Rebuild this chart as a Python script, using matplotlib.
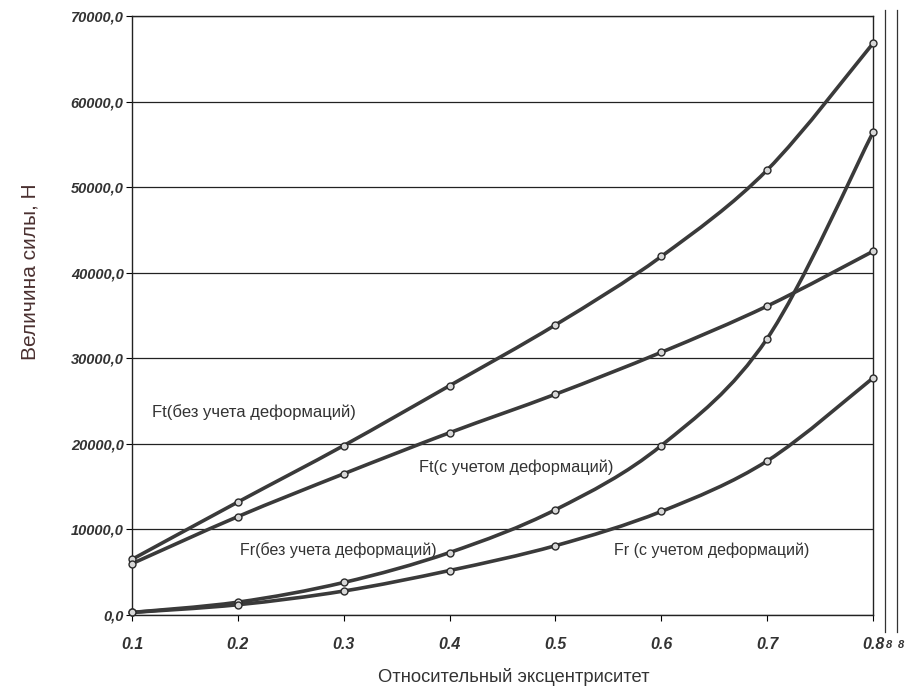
import matplotlib
matplotlib.use("Agg")
import matplotlib.pyplot as plt
from matplotlib.lines import Line2D
from matplotlib.path import Path
from matplotlib.patches import PathPatch

categories = ["0.1", "0.2", "0.3", "0.4", "0.5", "0.6", "0.7", "0.8"]
ft_no_def = [6500, 13200, 19800, 26800, 33900, 41900, 52000, 66800]
ft_def = [6000, 11500, 16500, 21300, 25800, 30700, 36100, 42500]
fr_no_def = [300, 1500, 3800, 7300, 12300, 19800, 32300, 56400]
fr_def = [300, 1200, 2800, 5200, 8100, 12100, 18000, 27700]
y_ticks = [0, 10000, 20000, 30000, 40000, 50000, 60000, 70000]
y_tick_labels = ["0,0", "10000,0", "20000,0", "30000,0", "40000,0", "50000,0", "60000,0", "70000,0"]
series_labels = ["Ft(без учета деформаций)", "Ft(с учетом деформаций)",
                 "Fr(без учета деформаций)", "Fr (с учетом деформаций)"]

plt.rcParams['font.family'] = ['Liberation Sans', 'DejaVu Sans']
W, H = 914, 686
fig = plt.figure(figsize=(W / 100, H / 100), dpi=100)
L, R, B, T = 132, 873, 615, 16
ax = fig.add_axes([L / W, (H - B) / H, (R - L) / W, (B - T) / H])

x = list(range(len(categories)))
line_col = "#3a3a3a"


def smooth_path(xs, ys):
    # Excel-style smoothed line: cubic Bezier segments through the data points
    n = len(xs)
    verts = [(xs[0], ys[0])]
    codes = [Path.MOVETO]
    for i in range(n - 1):
        x0, y0 = (xs[i - 1], ys[i - 1]) if i > 0 else (xs[i], ys[i])
        x1, y1 = xs[i], ys[i]
        x2, y2 = xs[i + 1], ys[i + 1]
        x3, y3 = (xs[i + 2], ys[i + 2]) if i + 2 < n else (x2, y2)
        c1 = (x1 + (x2 - x0) / 6.0, y1 + (y2 - y0) / 6.0)
        c2 = (x2 - (x3 - x1) / 6.0, y2 - (y3 - y1) / 6.0)
        verts += [c1, c2, (x2, y2)]
        codes += [Path.CURVE4] * 3
    return Path(verts, codes)


for vals in [ft_no_def, ft_def, fr_no_def, fr_def]:
    patch = PathPatch(smooth_path(x, vals), fill=False, edgecolor=line_col,
                      lw=2.6, zorder=3, clip_on=False)
    ax.add_patch(patch)
    ax.plot(x, vals, ls="none", marker="o", ms=5,
            mfc="#d8d8d8", mec="#2a2a2a", mew=1.0, zorder=4, clip_on=False)

ax.set_xlim(0, len(categories) - 1)
ax.set_ylim(0, 70000)
ax.set_yticks(y_ticks)
ax.set_yticklabels(y_tick_labels)
ax.set_xticks(x)
ax.set_xticklabels(categories)
for lab in ax.get_yticklabels() + ax.get_xticklabels():
    lab.set_fontstyle("italic")
    lab.set_fontweight("bold")
    lab.set_color("#333333")
    lab.set_fontsize(10.5)
for lab in ax.get_xticklabels():
    lab.set_fontsize(11.5)
ax.tick_params(axis="y", length=4, width=0.8, pad=2)
ax.tick_params(axis="x", length=4, width=0.8, pad=12)
ax.grid(axis="y", color="#222222", lw=0.9)
ax.set_axisbelow(True)
for s in ax.spines.values():
    s.set_color("#222222")
    s.set_linewidth(1.0)

fig.text(30 / W, (H - 272) / H, "Величина силы, Н", rotation=90, fontsize=15,
         color="#4a3030", ha="center", va="center")
fig.text(514 / W, (H - 677) / H, "Относительный эксцентриситет", fontsize=13.2,
         color="#333333", ha="center", va="center")

txt_kw = dict(color="#333333")
ax.text(0.19, 23700, series_labels[0], ha="left", va="center", fontsize=12, **txt_kw)
ax.text(2.71, 17300, series_labels[1], ha="left", va="center", fontsize=11.8, **txt_kw)
ax.text(1.02, 7600, series_labels[2], ha="left", va="center", fontsize=11.5, **txt_kw)
ax.text(4.55, 7600, series_labels[3], ha="left", va="center", fontsize=11.5, **txt_kw)

# extra thin vertical lines at the right edge (as in reference)
for xp in [885, 897]:
    fig.add_artist(Line2D([xp / W, xp / W], [(H - 632) / H, (H - 10) / H],
                          color="#333333", lw=0.9))
    fig.text(xp / W + 0.004, (H - 645) / H, "8", fontsize=8, fontstyle="italic",
             fontweight="bold", color="#333333", ha="center", va="center")

fig.savefig("out.png", dpi=100)
